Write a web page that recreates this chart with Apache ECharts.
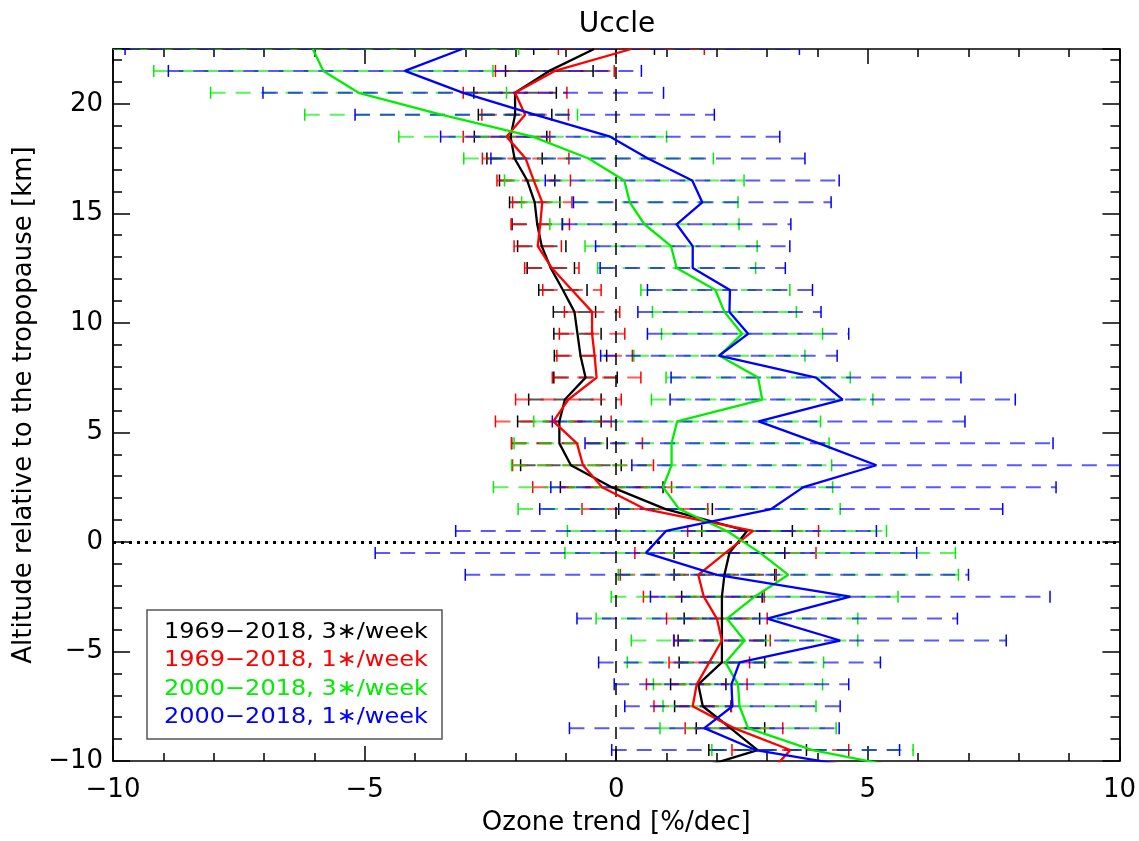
<!DOCTYPE html>
<html>
<head>
<meta charset="utf-8">
<script src="https://cdn.jsdelivr.net/npm/echarts@6/dist/echarts.min.js"></script>
<style>
  html, body { margin: 0; padding: 0; background: #fff; }
  #main { width: 1139px; height: 841px; }
</style>
</head>
<body>
<div id="main"></div>
<script>
// altitude levels relative to the tropopause [km]
const levels = [-10.5, -9.5, -8.5, -7.5, -6.5, -5.5, -4.5, -3.5, -2.5, -1.5, -0.5,
  0.5, 1.5, 2.5, 3.5, 4.5, 5.5, 6.5, 7.5, 8.5, 9.5, 10.5, 11.5, 12.5, 13.5,
  14.5, 15.5, 16.5, 17.5, 18.5, 19.5, 20.5, 21.5, 22.5];

// trend [%/dec] and its error bar half-width, per level
const black = [1.39, 2.81, 2.27, 1.72, 1.63, 2.1, 2.1, 2.1, 2.1, 2.15, 2.25,
  2.6, 0.98, -0.09, -0.9, -1.13, -1.13, -1.02, -0.61, -0.71, -0.77, -0.83, -1.06, -1.3, -1.48,
  -1.57, -1.62, -1.77, -2.02, -2.1, -2.01, -2.01, -1.33, -0.44];
const blackErr = [null, 0.97, 0.68, 0.56, 0.55, 0.85, 0.87, 0.75, 0.8, 1.0, 1.1,
  0.9, 0.93, 1.02, 1.0, 0.95, 0.83, 0.72, 0.63, 0.52, 0.47, 0.42, 0.48, 0.47, 0.48,
  0.5, 0.5, 0.55, 0.55, 0.72, 0.73, 0.82, 0.87, 1.2];

const red = [3.06, 3.46, 2.34, 1.52, 1.6, 1.85, 2.1, 2.0, 1.74, 1.63, 2.17,
  2.72, 0.57, -0.28, -0.66, -0.78, -1.25, -0.95, -0.39, -0.43, -0.48, -0.48, -0.88, -1.28, -1.56,
  -1.51, -1.47, -1.64, -1.8, -2.18, -1.81, -2.01, -1.22, 0.3];
const redErr = [null, 1.16, 0.97, 0.77, 1.0, 0.8, 0.96, 1.0, 1.2, 1.55, 1.8,
  1.3, 1.25, 1.38, 1.4, 1.3, 1.15, 1.05, 0.88, 0.75, 0.65, 0.55, 0.58, 0.54, 0.47,
  0.58, 0.59, 0.73, 0.86, 0.86, 0.86, 1.03, 1.18, 1.45];

const green = [6.1, 3.9, 2.62, 2.45, 2.42, 2.17, 2.55, 2.2, 2.75, 3.42, 2.86,
  2.2, 1.25, 0.93, 1.1, 1.1, 1.21, 2.9, 2.82, 2.05, 2.5, 2.15, 1.97, 1.2, 1.09,
  0.56, 0.27, 0.16, -0.55, -1.66, -3.48, -5.12, -5.82, -6.03];
const greenErr = [null, 2.0, 1.75, 1.52, 1.68, 1.95, 2.25, 2.6, 2.85, 3.38, 3.88,
  3.17, 3.2, 3.37, 3.18, 3.13, 2.85, 2.2, 1.83, 1.7, 1.6, 1.43, 1.48, 1.57, 1.71,
  1.88, 2.15, 2.38, 2.48, 2.66, 2.71, 2.94, 3.37, 4.09];

const blue = [5.35, 2.77, 1.75, 2.31, 2.29, 2.45, 4.45, 3.0, 4.65, 2.0, 0.59,
  0.99, 3.08, 3.72, 5.17, 4.03, 2.83, 4.5, 3.97, 2.04, 2.62, 2.25, 2.26, 1.52, 1.52,
  1.2, 1.71, 1.51, 0.63, -0.12, -1.62, -3.04, -4.2, -3.06];
const blueErr = [null, 2.86, 2.68, 2.14, 2.33, 2.8, 3.3, 3.78, 3.97, 5.0, 5.38,
  4.18, 4.6, 5.02, 4.86, 4.65, 4.1, 3.43, 2.88, 2.35, 2.0, 1.82, 1.64, 1.84, 1.93,
  2.27, 2.56, 2.92, 3.12, 3.37, 3.57, 3.98, 4.7, 6.7];

const seriesNames = ['1969\u22122018, 3\u2217/week', '1969\u22122018, 1\u2217/week',
  '2000\u22122018, 3\u2217/week', '2000\u22122018, 1\u2217/week'];
const colors = ['#000000', '#ff0000', '#00ee00', '#0000ff'];
const centers = [black, red, green, blue];
const errs = [blackErr, redErr, greenErr, blueErr];

const FONT = 'DejaVu Sans';
const minus = v => String(v).replace('-', '\u2212');

function errData(c, e) {
  const out = [];
  levels.forEach((y, i) => {
    if (e[i] != null) out.push([c[i] - e[i], c[i] + e[i], y]);
  });
  return out;
}

function errRenderer(color) {
  return function (params, api) {
    const y = api.value(2);
    const p1 = api.coord([api.value(0), y]);
    const p2 = api.coord([api.value(1), y]);
    const h = 6;
    const cap = { stroke: color, lineWidth: 1.5 };
    return {
      type: 'group',
      children: [
        { type: 'line', shape: { x1: p1[0], y1: p1[1], x2: p2[0], y2: p2[1] },
          style: { stroke: color, lineWidth: 2, lineDash: [15, 10], opacity: 0.65 } },
        { type: 'line', shape: { x1: p1[0], y1: p1[1] - h, x2: p1[0], y2: p1[1] + h }, style: cap },
        { type: 'line', shape: { x1: p2[0], y1: p2[1] - h, x2: p2[0], y2: p2[1] + h }, style: cap }
      ]
    };
  };
}

const series = [];
centers.forEach((c, k) => {
  const s = {
    type: 'custom',
    name: seriesNames[k] + ' err',
    renderItem: errRenderer(colors[k]),
    encode: { x: [0, 1], y: 2 },
    data: errData(c, errs[k]),
    clip: true,
    silent: true,
    z: 2
  };
  if (k === 0) {
    s.markLine = {
      silent: true, symbol: 'none', label: { show: false },
      animation: false,
      data: [
        { xAxis: 0, lineStyle: { color: '#000', width: 1.5, type: [12, 10] } },
        { yAxis: 0, lineStyle: { color: '#000', width: 3, type: [3, 5] } }
      ]
    };
  }
  series.push(s);
});
centers.forEach((c, k) => {
  series.push({
    type: 'line',
    name: seriesNames[k],
    data: levels.map((y, i) => [c[i], y]),
    showSymbol: false,
    clip: true,
    silent: true,
    lineStyle: { color: colors[k], width: 2.3 },
    itemStyle: { color: colors[k] },
    z: 5
  });
});

const axLine = { show: true, onZero: false, lineStyle: { color: '#000', width: 1.5 } };
const tickStyle = { color: '#000', width: 1.5 };

const xBase = {
  type: 'value', min: -10, max: 10, interval: 5,
  axisLine: axLine,
  axisTick: { inside: true, length: 15, lineStyle: tickStyle },
  minorTick: { show: true, splitNumber: 5, length: 8, lineStyle: tickStyle },
  splitLine: { show: false }
};

const yMajor = {
  type: 'value', min: -10, max: 22.5, interval: 5,
  axisLine: axLine,
  axisTick: { inside: true, length: 17, lineStyle: tickStyle },
  splitLine: { show: false }
};
const yMinor = {
  type: 'value', min: -10, max: 22.5, interval: 1,
  axisLine: axLine,
  axisTick: { inside: true, length: 9, lineStyle: tickStyle },
  axisLabel: { show: false },
  splitLine: { show: false }
};

const chart = echarts.init(document.getElementById('main'));
chart.setOption({
  animation: false,
  backgroundColor: '#fff',
  grid: { left: 113, right: 18, top: 49, bottom: 75 },
  xAxis: [
    Object.assign({}, xBase, {
      position: 'bottom',
      axisLabel: { color: '#000', fontSize: 26, fontFamily: FONT, margin: 16, formatter: minus },
      name: 'Ozone trend [%/dec]',
      nameLocation: 'middle', nameGap: 49,
      nameTextStyle: { color: '#000', fontSize: 26, fontFamily: FONT }
    }),
    Object.assign({}, xBase, { position: 'top', axisLabel: { show: false } })
  ],
  yAxis: [
    Object.assign({}, yMajor, {
      position: 'left',
      axisLabel: {
        color: '#000', fontSize: 26, fontFamily: FONT, margin: 10,
        formatter: v => (v % 5 === 0 ? minus(v) : '')
      },
      name: 'Altitude relative to the tropopause [km]',
      nameLocation: 'middle', nameGap: 63, nameRotate: 90,
      nameTextStyle: { color: '#000', fontSize: 26, fontFamily: FONT }
    }),
    Object.assign({}, yMinor, { position: 'left' }),
    Object.assign({}, yMajor, { position: 'right', axisLabel: { show: false } }),
    Object.assign({}, yMinor, { position: 'right' })
  ],
  series: series,
  graphic: [
    { type: 'text', x: 617, y: 25, z: 100,
      style: { text: 'Uccle', fill: '#000', fontSize: 28, fontFamily: FONT, align: 'center', verticalAlign: 'middle' } },
    { type: 'rect', z: 100, shape: { x: 147, y: 610, width: 295, height: 129 },
      style: { fill: '#fff', stroke: '#555', lineWidth: 1.5 } },
    ...seriesNames.map((t, k) => ({
      type: 'text', z: 101, x: 164, y: 632 + k * 28.5, scaleX: 1.09,
      style: { text: t, fill: colors[k], fontSize: 22, fontFamily: FONT, align: 'left', verticalAlign: 'middle' }
    }))
  ]
});
</script>
</body>
</html>
